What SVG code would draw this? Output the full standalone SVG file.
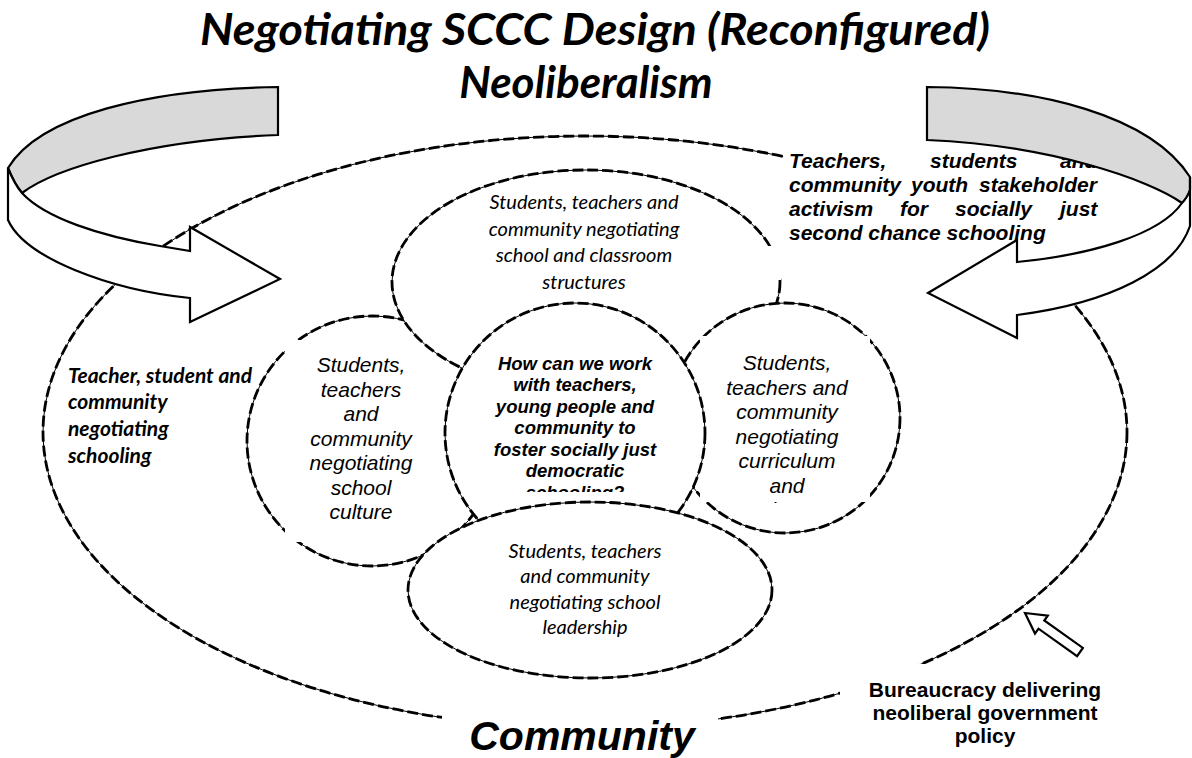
<svg xmlns="http://www.w3.org/2000/svg" width="1192" height="758" viewBox="0 0 1192 758">
<defs>
<style>
.thin{fill:none;stroke:#000;stroke-width:1}
.shape{fill:#fff;stroke:#000;stroke-width:1}
.dash{fill:none;stroke:#000;stroke-width:2.8;stroke-dasharray:11 4}
.box{fill:#fff;stroke:none}
.arr{stroke:#000;stroke-width:2.2;stroke-linejoin:miter}
.gray{fill:#d9d9d9}
.wht{fill:#fff}
.title{font-family:Lato,"Liberation Sans",sans-serif;font-weight:bold;font-style:italic;font-size:44px;text-anchor:middle;fill:#000}
.cal{font-family:Lato,"Liberation Sans",sans-serif;font-style:italic;font-size:20px;text-anchor:middle;fill:#000}
.calb{font-family:Lato,"Liberation Sans",sans-serif;font-weight:bold;font-style:italic;font-size:21px;fill:#000}
.ai{font-family:"Liberation Sans",Arial,sans-serif;font-style:italic;font-size:21px;text-anchor:middle;fill:#000}
.abi{font-family:"Liberation Sans",Arial,sans-serif;font-weight:bold;font-style:italic;font-size:18.5px;text-anchor:middle;fill:#000}
.tb{font-family:"Liberation Sans",Arial,sans-serif;font-weight:bold;font-style:italic;font-size:21px;fill:#000}
.comm{font-family:"Liberation Sans",Arial,sans-serif;font-weight:bold;font-style:italic;font-size:41px;text-anchor:middle;fill:#000}
.bur{font-family:"Liberation Sans",Arial,sans-serif;font-weight:bold;font-size:21px;text-anchor:middle;fill:#000}
</style>
<clipPath id="clipC"><rect x="400" y="300" width="350" height="192"/></clipPath>
<clipPath id="clipR"><rect x="600" y="300" width="270" height="203"/></clipPath>
</defs>

<g id="title">
<text class="title" x="595" y="45" textLength="790" lengthAdjust="spacingAndGlyphs">Negotiating SCCC Design (Reconfigured)</text>
<text class="title" x="586" y="98">Neoliberalism</text>
</g>

<g id="outer-community">
<ellipse class="thin" cx="585" cy="432" rx="542" ry="296"/>
<ellipse class="dash" cx="585" cy="432" rx="542" ry="296"/>
</g>

<g id="community-label">
<rect class="box" x="442" y="703" width="276" height="55"/>
<text class="comm" x="582" y="750">Community</text>
</g>

<g id="activism-label">
<rect class="box" x="783" y="143" width="317" height="119"/>
<text class="tb" y="168"><tspan x="789">Teachers,</tspan><tspan x="930">students</tspan><tspan x="1060">and</tspan></text>
<text class="tb" y="192"><tspan x="789">community</tspan><tspan x="911">youth</tspan><tspan x="979">stakeholder</tspan></text>
<text class="tb" y="216"><tspan x="789">activism</tspan><tspan x="900">for</tspan><tspan x="955">socially</tspan><tspan x="1060">just</tspan></text>
<text class="tb" x="789" y="240">second chance schooling</text>
</g>

<g id="schooling-label">
<text class="calb" x="68" y="383">Teacher, student and</text>
<text class="calb" x="68" y="409">community</text>
<text class="calb" x="68" y="436">negotiating</text>
<text class="calb" x="68" y="463">schooling</text>
</g>

<g id="bureaucracy-label">
<rect class="box" x="840" y="664" width="290" height="94"/>
<text class="bur" x="985" y="697">Bureaucracy delivering</text>
<text class="bur" x="985" y="720">neoliberal government</text>
<text class="bur" x="985" y="743">policy</text>
</g>

<g id="connectors">
<g id="left-arrow">
<path class="arr gray" d="M278,87 C150,89 40,115 8,168 C12,178 16,186 22,193 C55,168 150,140 278,135 Z"/>
<path class="arr wht" d="M8,168 L8,220 C25,258 110,290 190,298 L190,322 L280,279 L190,227 L190,251 L160,246 C100,236 45,218 22,193 C16,186 12,178 8,168 Z"/>
</g>
<g id="right-arrow">
<path class="arr gray" d="M927,87 C1040,88 1150,115 1190,177 L1190,190 C1188,196 1185,200 1182,203 C1150,180 1050,145 927,140 Z"/>
<path class="arr wht" d="M1190,177 L1190,226 C1175,270 1110,303 1017,315 L1017,338 L928,293 L1017,240 L1017,262 C1090,255 1160,235 1182,203 C1185,200 1188,196 1190,190 Z"/>
</g>
<g id="bureaucracy-arrow">
<polygon class="arr wht" points="1025,613 1047.8,615.6 1044.3,620.5 1082.9,647.9 1077.1,656.1 1038.5,628.7 1035,633.6"/>
</g>
</g>

<g id="node-culture">
<circle class="shape" cx="372" cy="441" r="125"/>
<circle class="dash" cx="372" cy="441" r="125"/>
<rect class="box" x="285" y="340" width="175" height="202"/>
<text class="ai" x="361" y="372">Students,</text>
<text class="ai" x="361" y="397">teachers</text>
<text class="ai" x="361" y="421">and</text>
<text class="ai" x="361" y="446">community</text>
<text class="ai" x="361" y="470">negotiating</text>
<text class="ai" x="361" y="495">school</text>
<text class="ai" x="361" y="519">culture</text>
</g>

<g id="node-structures">
<ellipse class="shape" cx="586" cy="282" rx="194" ry="112"/>
<ellipse class="dash" cx="586" cy="282" rx="194" ry="112"/>
<rect class="box" x="740" y="246" width="41" height="34"/>
<text class="cal" x="584" y="209">Students, teachers and</text>
<text class="cal" x="584" y="236">community negotiating</text>
<text class="cal" x="584" y="262">school and classroom</text>
<text class="cal" x="584" y="289">structures</text>
</g>

<g id="node-curriculum">
<circle class="shape" cx="785" cy="418" r="115"/>
<circle class="dash" cx="785" cy="418" r="115"/>
<rect class="box" x="700" y="336" width="170" height="166"/>
<g clip-path="url(#clipR)">
<text class="ai" x="787" y="370">Students,</text>
<text class="ai" x="787" y="394.5">teachers and</text>
<text class="ai" x="787" y="419">community</text>
<text class="ai" x="787" y="443.5">negotiating</text>
<text class="ai" x="787" y="468">curriculum</text>
<text class="ai" x="787" y="492.5">and</text>
<text class="ai" x="787" y="517">pedagogy</text>
</g>
</g>

<g id="node-question">
<circle class="shape" cx="575" cy="433" r="130"/>
<circle class="dash" cx="575" cy="433" r="130"/>
<g clip-path="url(#clipC)">
<text class="abi" x="575" y="369.5">How can we work</text>
<text class="abi" x="575" y="391">with teachers,</text>
<text class="abi" x="575" y="412.5">young people and</text>
<text class="abi" x="575" y="434">community to</text>
<text class="abi" x="575" y="455.5">foster socially just</text>
<text class="abi" x="575" y="477">democratic</text>
<text class="abi" x="575" y="498.5">schooling?</text>
</g>
</g>

<g id="node-leadership">
<ellipse class="shape" cx="590" cy="590" rx="182" ry="88"/>
<ellipse class="dash" cx="590" cy="590" rx="182" ry="88"/>
<text class="cal" x="585" y="558">Students, teachers</text>
<text class="cal" x="585" y="583">and community</text>
<text class="cal" x="585" y="609">negotiating school</text>
<text class="cal" x="585" y="634">leadership</text>
</g>
</svg>
